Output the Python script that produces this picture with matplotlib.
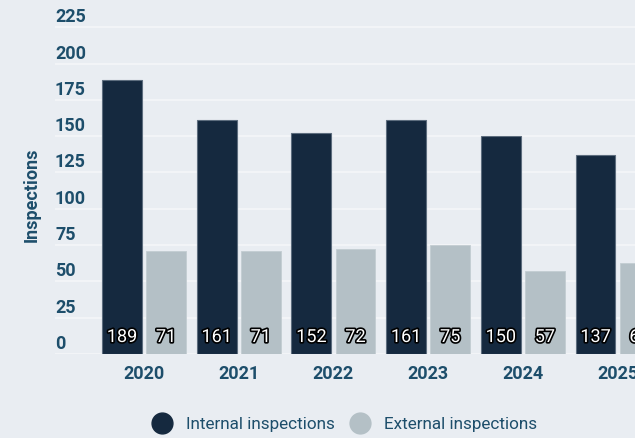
import numpy as np
import matplotlib.pyplot as plt
import matplotlib.patheffects as pe
from matplotlib.lines import Line2D
from matplotlib.transforms import ScaledTranslation, blended_transform_factory

plt.rcParams["font.family"] = ["Roboto", "DejaVu Sans"]

years = ["2020", "2021", "2022", "2023", "2024", "2025"]
internal = [189, 161, 152, 161, 150, 137]
external = [71, 71, 72, 75, 57, 63]
yticks = [0, 25, 50, 75, 100, 125, 150, 175, 200, 225]

BG = "#e9edf2"
GRID = "#f2f4f7"
C_INT = "#15293f"
C_EXT = "#b4c0c6"
TXT = "#1d4e6b"

fig = plt.figure(figsize=(6.35, 4.38), dpi=100, facecolor=BG)
ax = fig.add_axes([55 / 635, 84 / 438, 580 / 635, 354 / 438], facecolor=BG)

x = np.arange(len(years))
w, off = 0.42, 0.2325
b1 = ax.bar(x - off, internal, w, color=C_INT, edgecolor="#5d6d7e", linewidth=0.8, zorder=3)
b2 = ax.bar(x + off, external, w, color=C_EXT, edgecolor="#c3cdd2", linewidth=0.6, zorder=3)

ax.set_xlim(-0.94, 5.185)
ax.set_ylim(0, 243.8)
for s in ax.spines.values():
    s.set_visible(False)

# gridlines with labels sitting just above them, flush left
ax.set_yticks(yticks)
ax.set_yticklabels([])
ax.tick_params(axis="y", length=0)
ax.grid(axis="y", color=GRID, linewidth=1.5, zorder=0)
tr = blended_transform_factory(ax.transAxes, ax.transData)
for v in yticks:
    ax.text(0, v, str(v), transform=tr + ScaledTranslation(0, 10 / 100, fig.dpi_scale_trans),
            ha="left", va="center", fontsize=13, fontweight="bold", color=TXT)

ax.set_xticks(x)
ax.set_xticklabels(years, fontsize=13, fontweight="bold", color=TXT)
ax.tick_params(axis="x", length=0, pad=8)

# value labels at the foot of each bar
lab_tr = ax.transData + ScaledTranslation(0, 17 / 100, fig.dpi_scale_trans)
for bars, vals in ((b1, internal), (b2, external)):
    for rect, v in zip(bars, vals):
        ax.text(rect.get_x() + rect.get_width() / 2, 0, str(v), transform=lab_tr,
                ha="center", va="center", fontsize=13, color="white", zorder=5,
                path_effects=[pe.withStroke(linewidth=2.4, foreground="black")])

fig.text(32 / 635, 1 - 195 / 438, "Inspections", rotation=90, ha="center", va="center",
         fontsize=13, fontweight="bold", color=TXT)

handles = [Line2D([], [], marker="o", linestyle="none", markersize=15, color=C_INT),
           Line2D([], [], marker="o", linestyle="none", markersize=15, color=C_EXT)]
leg = fig.legend(handles, ["Internal inspections", "External inspections"], ncol=2,
                 loc="center", bbox_to_anchor=(344 / 635, 1 - 424 / 438), frameon=False,
                 fontsize=12.3, handlelength=1.3, handletextpad=0.75, columnspacing=0.8)
for t in leg.get_texts():
    t.set_color(TXT)

fig.savefig("out.png", dpi=100, facecolor=BG)
